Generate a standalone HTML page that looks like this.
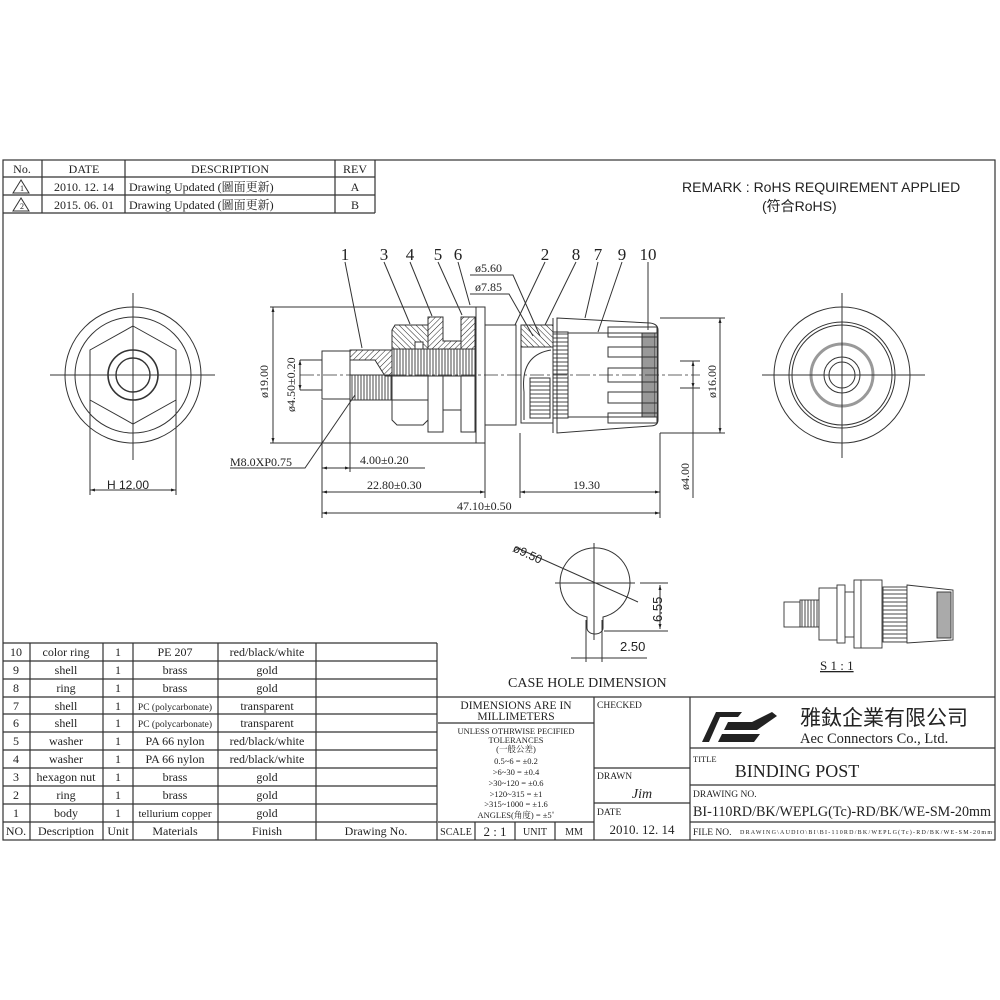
<!DOCTYPE html>
<html><head><meta charset="utf-8"><style>
html,body{margin:0;padding:0;background:#fff;}
svg{display:block;}
text{font-family:"Liberation Serif","Noto Serif CJK SC","Noto Sans CJK TC",serif;fill:#222;}
.s{font-family:"Liberation Sans","Noto Sans CJK SC",sans-serif;}
</style></head><body>
<svg width="1000" height="1000" viewBox="0 0 1000 1000" xmlns="http://www.w3.org/2000/svg">
<defs>
<pattern id="h" width="4" height="4" patternUnits="userSpaceOnUse" patternTransform="rotate(45)"><line x1="0" y1="0" x2="0" y2="4" stroke="#222" stroke-width="1"/></pattern>
<pattern id="h2" width="4" height="4" patternUnits="userSpaceOnUse" patternTransform="rotate(-45)"><line x1="0" y1="0" x2="0" y2="4" stroke="#222" stroke-width="1"/></pattern>
<pattern id="th" width="3" height="10" patternUnits="userSpaceOnUse"><line x1="1" y1="0" x2="1" y2="10" stroke="#333" stroke-width="0.9"/></pattern>
<pattern id="hz" width="10" height="4" patternUnits="userSpaceOnUse"><line x1="0" y1="2" x2="10" y2="2" stroke="#333" stroke-width="0.9"/></pattern>
<marker id="a" viewBox="0 0 10 10" refX="10" refY="5" markerWidth="7" markerHeight="5" orient="auto-start-reverse"><path d="M0,2 L10,5 L0,8z" fill="#222"/></marker>
</defs>
<g fill="none" stroke="#333" stroke-width="1.2">
<rect x="3" y="160" width="992" height="680"/>
<path d="M3 177H375M3 195H375M3 213H375M375 160V213M42 160V213M125 160V213M335 160V213"/>
<path d="M3 643H437M3 661H437M3 679H437M3 697H437M3 714H437M3 732H437M3 750H437M3 768H437M3 786H437M3 804H437M3 822H437"/>
<path d="M437 643V840M30 643V840M103 643V840M133 643V840M218 643V840M316 643V840"/>
<path d="M437 697H995M594 697V840M690 697V840M438 723H594M438 822H594M475 822V840M515 822V840M555 822V840M594 768H690M594 803H690M690 748H995M690 785H995M690 822H995"/>
</g>
<g font-size="12" text-anchor="middle">
<text x="22" y="173">No.</text><text x="84" y="173">DATE</text><text x="230" y="173">DESCRIPTION</text><text x="355" y="173">REV</text>
<text x="84" y="191">2010. 12. 14</text><text x="84" y="209">2015. 06. 01</text>
<text x="355" y="191">A</text><text x="355" y="209">B</text>
</g>
<g font-size="12"><text x="129" y="191">Drawing Updated (圖面更新)</text><text x="129" y="209">Drawing Updated (圖面更新)</text></g>
<g fill="none" stroke="#333" stroke-width="1"><path d="M21 180L13 193H29Z"/><path d="M21 198L13 211H29Z"/></g>
<text x="22" y="191" font-size="8" text-anchor="middle">1</text><text x="22" y="209" font-size="8" text-anchor="middle">2</text>
<text x="682" y="192" font-size="14" class="s">REMARK : RoHS REQUIREMENT APPLIED</text>
<text x="762" y="211" font-size="14" class="s">(符合RoHS)</text>
<g font-size="12" text-anchor="middle">
<text x="16" y="656">10</text><text x="66" y="656">color ring</text><text x="118" y="656">1</text><text x="175" y="656">PE 207</text><text x="267" y="656">red/black/white</text>
<text x="16" y="674">9</text><text x="66" y="674">shell</text><text x="118" y="674">1</text><text x="175" y="674">brass</text><text x="267" y="674">gold</text>
<text x="16" y="692">8</text><text x="66" y="692">ring</text><text x="118" y="692">1</text><text x="175" y="692">brass</text><text x="267" y="692">gold</text>
<text x="16" y="710">7</text><text x="66" y="710">shell</text><text x="118" y="710">1</text><text x="175" y="710" font-size="9.5">PC (polycarbonate)</text><text x="267" y="710">transparent</text>
<text x="16" y="727">6</text><text x="66" y="727">shell</text><text x="118" y="727">1</text><text x="175" y="727" font-size="9.5">PC (polycarbonate)</text><text x="267" y="727">transparent</text>
<text x="16" y="745">5</text><text x="66" y="745">washer</text><text x="118" y="745">1</text><text x="175" y="745">PA 66 nylon</text><text x="267" y="745">red/black/white</text>
<text x="16" y="763">4</text><text x="66" y="763">washer</text><text x="118" y="763">1</text><text x="175" y="763">PA 66 nylon</text><text x="267" y="763">red/black/white</text>
<text x="16" y="781">3</text><text x="66" y="781">hexagon nut</text><text x="118" y="781">1</text><text x="175" y="781">brass</text><text x="267" y="781">gold</text>
<text x="16" y="799">2</text><text x="66" y="799">ring</text><text x="118" y="799">1</text><text x="175" y="799">brass</text><text x="267" y="799">gold</text>
<text x="16" y="817">1</text><text x="66" y="817">body</text><text x="118" y="817">1</text><text x="175" y="817" font-size="11">tellurium copper</text><text x="267" y="817">gold</text>
<text x="16" y="835">NO.</text><text x="66" y="835">Description</text><text x="118" y="835">Unit</text><text x="175" y="835">Materials</text><text x="267" y="835">Finish</text><text x="376" y="835">Drawing No.</text>
</g>
<g text-anchor="middle">
<text x="516" y="709" font-size="11.5">DIMENSIONS ARE IN</text><text x="516" y="720" font-size="11.5">MILLIMETERS</text>
<g font-size="8.5"><text x="516" y="734">UNLESS OTHRWISE PECIFIED</text><text x="516" y="743">TOLERANCES</text><text x="516" y="752">(一般公差)</text><text x="516" y="764">0.5~6 = ±0.2</text><text x="516" y="775">&gt;6~30 = ±0.4</text><text x="516" y="786">&gt;30~120 = ±0.6</text><text x="516" y="797">&gt;120~315 = ±1</text><text x="516" y="807">&gt;315~1000 = ±1.6</text><text x="516" y="818">ANGLES(角度) = ±5˚</text></g>
<text x="456" y="835" font-size="10">SCALE</text><text x="495" y="836" font-size="13">2 : 1</text><text x="535" y="835" font-size="10">UNIT</text><text x="574" y="835" font-size="10">MM</text>
<text x="642" y="798" font-size="14" font-style="italic">Jim</text>
<text x="642" y="834" font-size="13">2010. 12. 14</text>
<text x="797" y="777" font-size="18">BINDING POST</text>
</g>
<text x="693" y="816" font-size="14.5" textLength="298" lengthAdjust="spacingAndGlyphs">BI-110RD/BK/WEPLG(Tc)-RD/BK/WE-SM-20mm</text>
<g font-size="9.5"><text x="597" y="708">CHECKED</text><text x="597" y="779">DRAWN</text><text x="597" y="815">DATE</text><text x="693" y="762" font-size="8.5">TITLE</text><text x="693" y="797">DRAWING NO.</text><text x="693" y="835">FILE NO.</text></g>
<text x="740" y="834" font-size="6" textLength="252">DRAWING\AUDIO\BI\BI-110RD/BK/WEPLG(Tc)-RD/BK/WE-SM-20mm</text>
<text x="800" y="725" font-size="21" class="s">雅鈦企業有限公司</text>
<text x="800" y="743" font-size="14.5">Aec Connectors Co., Ltd.</text>
<g fill="#222"><path d="M702 742L716 712H742L738 717H720L709 742Z"/><path d="M724 730L728 722H752L772 712L777 716L757 730Z"/><path d="M718 742L722 734H760L754 742Z"/></g>
<text x="508" y="687" font-size="14">CASE HOLE DIMENSION</text>
<text x="820" y="670" font-size="13" text-decoration="underline">S 1 : 1</text>
<g fill="none" stroke="#333" stroke-width="1">
<path d="M587 617A35 35 0 1 1 603 617V628A8 6 0 0 1 587 628Z"/>
<path d="M594 543V640M555 583H635M640 583H668M604 631H668M586 620V662M602 620V662M571 658H620M583 658H647"/>
<path d="M515 547L638 602"/>
<path d="M660 585V629" marker-start="url(#a)" marker-end="url(#a)"/>
</g>
<text x="512" y="551" font-size="12" class="s" transform="rotate(25 512 551)">ø9.50</text>
<text x="662" y="622" font-size="13" class="s" transform="rotate(-90 662 622)">6.55</text>
<text x="620" y="651" font-size="13" class="s">2.50</text>
<g fill="none" stroke="#333" stroke-width="1">
<circle cx="133" cy="375" r="68"/><circle cx="133" cy="375" r="58"/>
<path d="M133 326L176 350V400L133 424L90 400V350Z"/>
<circle cx="133" cy="375" r="25" stroke-width="1.6"/><circle cx="133" cy="375" r="17" stroke-width="1.4"/>
<path d="M133 293V460M50 375H215M129 375H137M90 400V495M176 400V495"/>
<path d="M90 490H176" marker-start="url(#a)" marker-end="url(#a)"/>
</g>
<text x="107" y="489" font-size="12" class="s">H 12.00</text>
<g fill="none" stroke="#333" stroke-width="1">
<circle cx="842" cy="375" r="68"/><circle cx="842" cy="375" r="53"/><circle cx="842" cy="375" r="50"/>
<circle cx="842" cy="375" r="31" stroke="#999" stroke-width="3"/>
<circle cx="842" cy="375" r="18"/><circle cx="842" cy="375" r="13"/>
<path d="M842 293V458M762 375H925"/>
</g>
<g stroke="#333" stroke-width="1" fill="none">
<rect x="322" y="351" width="28" height="48" fill="#fff"/>
<path d="M350 350H392V376H385L375 360H350Z" fill="url(#h)"/>
<rect x="350" y="375" width="42" height="25" fill="url(#th)"/>
<rect x="392" y="349" width="83" height="27" fill="url(#th)"/>
<path d="M395 325H428V349H392V330Z" fill="url(#h2)"/>
<rect x="415" y="342" width="8" height="7" fill="#fff"/>
<path d="M392 400H428V420L423 425H397L392 420Z" fill="#fff"/>
<path d="M428 317H443V341H461V349H428Z" fill="url(#h)"/>
<rect x="428" y="376" width="15" height="56"/>
<path d="M461 317H475V349H461Z" fill="url(#h)"/>
<rect x="461" y="376" width="14" height="56"/>
<path d="M443 376V410H461"/>
<rect x="476" y="307" width="9" height="136" fill="#fff"/>
<rect x="485" y="325" width="31" height="100" fill="#fff"/>
<rect x="521" y="325" width="32" height="98" fill="#fff"/>
<rect x="521" y="325" width="32" height="22" fill="url(#h2)"/>
<path d="M524 392Q520 355 551 350M524 392V420" />
<rect x="530" y="378" width="20" height="40" fill="url(#hz)"/>
<path d="M557 318L650 323Q658 324 658 330V420Q658 426 650 426L557 433Z" fill="#fff"/>
<path d="M553 318V433"/>
<rect x="553" y="332" width="15" height="86" fill="url(#hz)"/>
<rect x="568" y="333" width="89" height="84"/>
<rect x="642" y="333" width="13" height="84" fill="#999"/>
<path d="M608 327H657V337H608ZM608 347H657V357H608ZM608 368H657V382H608ZM608 392H657V403H608ZM608 413H657V423H608Z" fill="none"/>
<path d="M300 375H700" stroke-dasharray="14 3 3 3" stroke-width="0.8"/>
<path d="M345 262L362 348M384 262L410 324M410 262L432 316M438 262L462 315M458 262L470 305M545 262L515 325M576 262L545 325M598 262L585 318M622 262L598 332M648 262L648 330"/>
<path d="M470 275H513L540 336M470 294H509L533 336"/>
<path d="M270 307H476M270 443H476M300 360H322M300 390H322M660 318H725M660 433H725M680 361H700M680 388H700"/>
<path d="M273 307V443" marker-start="url(#a)" marker-end="url(#a)"/>
<path d="M300 360V390" marker-start="url(#a)" marker-end="url(#a)"/>
<path d="M720 318V433" marker-start="url(#a)" marker-end="url(#a)"/>
<path d="M693 361V388" marker-start="url(#a)" marker-end="url(#a)"/>
<path d="M693 388V498"/>
<path d="M322 400V518M350 400V472M485 443V498M520 433V498M660 433V518"/>
<path d="M322 468H350" marker-start="url(#a)" marker-end="url(#a)"/>
<path d="M350 468H425"/>
<path d="M322 492H485" marker-start="url(#a)" marker-end="url(#a)"/>
<path d="M520 492H660" marker-start="url(#a)" marker-end="url(#a)"/>
<path d="M322 513H660" marker-start="url(#a)" marker-end="url(#a)"/>
<path d="M230 468H305L355 395"/>
</g>
<g font-size="17" text-anchor="middle">
<text x="345" y="260">1</text><text x="384" y="260">3</text><text x="410" y="260">4</text><text x="438" y="260">5</text><text x="458" y="260">6</text>
<text x="545" y="260">2</text><text x="576" y="260">8</text><text x="598" y="260">7</text><text x="622" y="260">9</text><text x="648" y="260">10</text>
</g>
<g font-size="12" class="s">
<text x="475" y="272">ø5.60</text><text x="475" y="291">ø7.85</text>
<text x="230" y="466">M8.0XP0.75</text>
<text x="360" y="464">4.00±0.20</text>
<text x="367" y="489">22.80±0.30</text>
<text x="573" y="489">19.30</text>
<text x="457" y="510">47.10±0.50</text>
<text x="268" y="398" transform="rotate(-90 268 398)">ø19.00</text>
<text x="295" y="412" transform="rotate(-90 295 412)">ø4.50±0.20</text>
<text x="716" y="398" transform="rotate(-90 716 398)">ø16.00</text>
<text x="689" y="490" transform="rotate(-90 689 490)">ø4.00</text>
</g>
<g stroke="#333" stroke-width="0.9" fill="#fff">
<rect x="784" y="602" width="16" height="25"/>
<rect x="800" y="600" width="19" height="27" fill="url(#th)"/>
<rect x="819" y="588" width="18" height="52"/>
<rect x="837" y="585" width="8" height="58"/>
<rect x="845" y="592" width="9" height="45"/>
<rect x="854" y="580" width="7" height="68"/>
<rect x="861" y="580" width="21" height="68"/>
<rect x="883" y="587" width="24" height="55" fill="url(#hz)"/>
<path d="M907 585L953 590V640L907 643Z"/>
<rect x="937" y="592" width="14" height="46" fill="#aaa"/>
</g>
</svg>
</body></html>
